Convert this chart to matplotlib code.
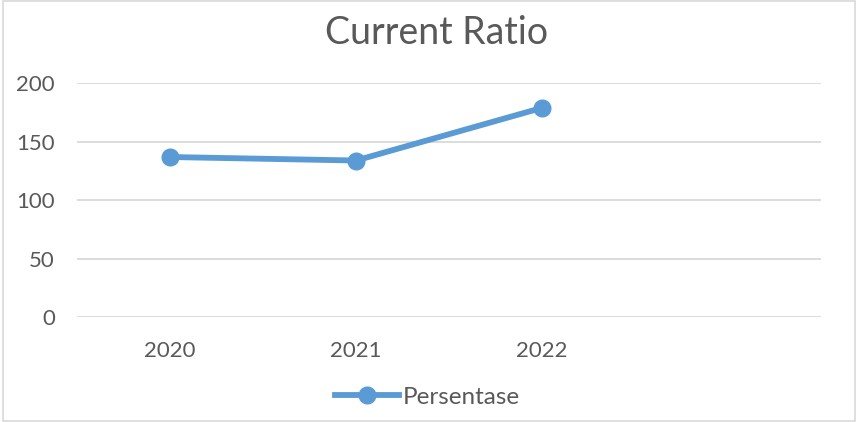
import matplotlib
matplotlib.use('Agg')
from matplotlib import pyplot as plt
from matplotlib.patches import Rectangle

plt.rcParams['font.family'] = ['Lato', 'DejaVu Sans']

# Data
categories = ['2020', '2021', '2022', '']
values = [137, 134, 179]
series_name = 'Persentase'
y_ticks = [0, 50, 100, 150, 200]

blue = '#5B9BD5'
grey_text = '#595959'
grid_col = '#D9D9D9'

fig = plt.figure(figsize=(8.6, 4.22), dpi=100)
ax = fig.add_axes([77 / 860, 1 - 317.3 / 422, 744 / 860, 234 / 422])

x = list(range(len(categories)))
ax.plot(x[:len(values)], values, color=blue, linewidth=4.2, marker='o',
        markersize=12, label=series_name, clip_on=False, zorder=3)

ax.set_xlim(-0.5, len(categories) - 0.5)
ax.set_ylim(0, 200)
ax.set_yticks(y_ticks)
ax.set_xticks(x)
ax.set_xticklabels(categories)
ax.yaxis.grid(True, color=grid_col, linewidth=1.3)
ax.set_axisbelow(True)
for s in ax.spines.values():
    s.set_visible(False)
ax.tick_params(axis='both', length=0, labelsize=16, colors=grey_text)
ax.tick_params(axis='x', pad=17)
ax.tick_params(axis='y', pad=16)

fig.text(0.508, 1 - 44 / 422, 'Current Ratio', ha='center', va='baseline',
         fontsize=27, color=grey_text)

leg = fig.legend(loc='center', bbox_to_anchor=(0.497, 1 - 397 / 422),
                 frameon=False, fontsize=17.5, handlelength=2.6,
                 handletextpad=0.15, labelcolor=grey_text)

# outer chart border
fig.patches.append(Rectangle((3 / 860, 1 / 422), 852 / 860, 420 / 422,
                             transform=fig.transFigure, fill=False,
                             edgecolor=grid_col, linewidth=1.2))

plt.savefig('out.png', dpi=100)
